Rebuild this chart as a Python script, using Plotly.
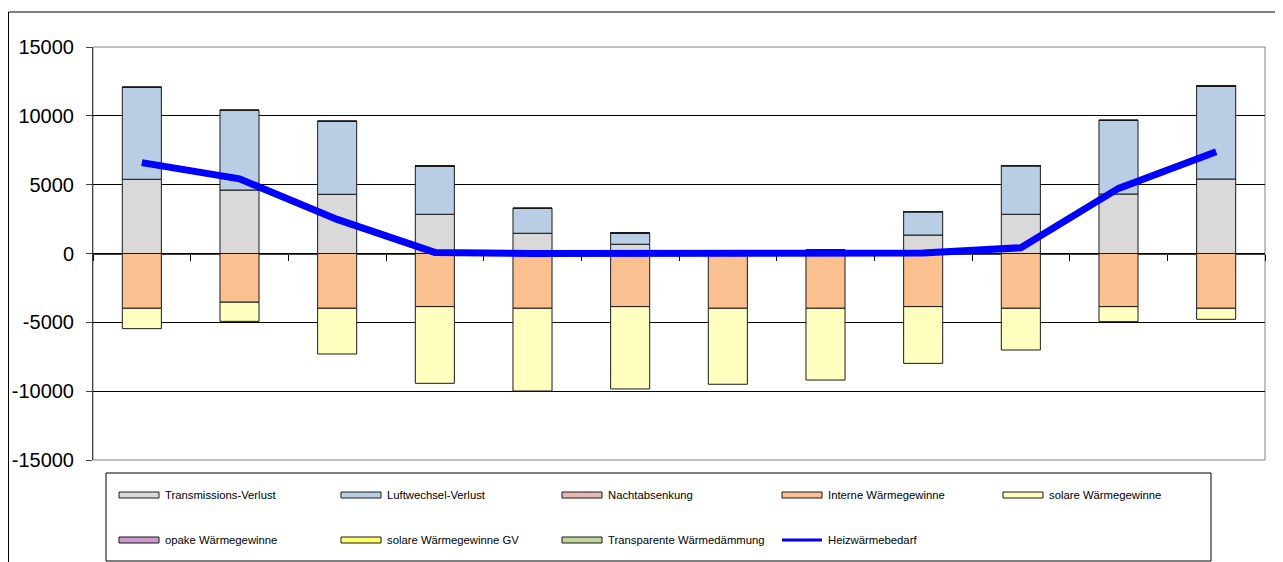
import plotly.graph_objects as go

# ---------------- data ----------------
months = ["Jan", "Feb", "Mär", "Apr", "Mai", "Jun", "Jul", "Aug", "Sep", "Okt", "Nov", "Dez"]

transmission = [5390, 4610, 4300, 2850, 1470, 670, 0, 270, 1340, 2850, 4320, 5410]
luftwechsel = [6680, 5790, 5300, 3500, 1810, 820, 0, 0, 1700, 3530, 5350, 6750]
nachtabsenkung = [0] * 12
interne = [-3980, -3540, -3980, -3860, -3980, -3860, -3980, -3980, -3860, -3980, -3860, -3980]
solare = [-1480, -1390, -3320, -5570, -6010, -5980, -5520, -5210, -4120, -3030, -1090, -800]
opake = [0] * 12
solare_gv = [0] * 12
transparente = [0] * 12
heizwaerme = [6600, 5420, 2480, 80, 0, 0, 0, 0, 30, 420, 4730, 7390]

y_ticks = [-15000, -10000, -5000, 0, 5000, 10000, 15000]

bar_series = [
    ("Transmissions-Verlust", transmission, "#D9D9D9"),
    ("Luftwechsel-Verlust", luftwechsel, "#B9CDE5"),
    ("Nachtabsenkung", nachtabsenkung, "#E6B9B8"),
    ("Interne Wärmegewinne", interne, "#FAC090"),
    ("solare Wärmegewinne", solare, "#FFFFC0"),
    ("opake Wärmegewinne", opake, "#CC99CC"),
    ("solare Wärmegewinne GV", solare_gv, "#FFFF66"),
    ("Transparente Wärmedämmung", transparente, "#C3D69B"),
]
line_name = "Heizwärmebedarf"
line_color = "#0000FF"

# ---------------- layout geometry ----------------
# the page body has an 8px margin, so the figure is drawn 8px right/down
OFF = 8
W, H = 1283 - OFF, 562 - OFF
# plot area in page pixels
PL, PR, PT, PB = 93, 1265, 47, 460
FONT = "Liberation Sans, Arial, sans-serif"


def px2x(px):
    return (px - PL) / (PR - PL)


def py2y(py):
    return (PB - py) / (PB - PT)


fig = go.Figure()
for name, vals, col in bar_series:
    fig.add_trace(go.Bar(
        x=months, y=vals, name=name, showlegend=False,
        marker=dict(color=col, line=dict(color="#1a1a1a", width=1)),
    ))

fig.add_trace(go.Scatter(
    x=months, y=heizwaerme, name=line_name, mode="lines", showlegend=False,
    line=dict(color=line_color, width=7),
))

shapes = []
annotations = []

# outer chart border
shapes.append(dict(type="rect", xref="paper", yref="paper",
                   x0=px2x(OFF + 0.5), x1=px2x(1280), y0=py2y(590), y1=py2y(12),
                   line=dict(color="#000000", width=1), fillcolor="rgba(0,0,0,0)", layer="below"))
# plot area border
shapes.append(dict(type="rect", xref="paper", yref="paper",
                   x0=0, x1=1, y0=0, y1=1,
                   line=dict(color="#808080", width=1), fillcolor="rgba(0,0,0,0)", layer="below"))
# legend box
shapes.append(dict(type="rect", xref="paper", yref="paper",
                   x0=px2x(106), x1=px2x(1211), y0=py2y(561), y1=py2y(473),
                   line=dict(color="#000000", width=1), fillcolor="white"))

col_x = [119, 341, 562, 782, 1003]
row_y = [495, 540]
legend_items = [(n, c, "bar") for n, _, c in bar_series] + [(line_name, line_color, "line")]
for i, (name, col, kind) in enumerate(legend_items):
    r, c = divmod(i, 5)
    sx = col_x[c]
    sy = row_y[r]
    if kind == "bar":
        shapes.append(dict(type="rect", xref="paper", yref="paper",
                           x0=px2x(sx), x1=px2x(sx + 40), y0=py2y(sy + 3), y1=py2y(sy - 3),
                           line=dict(color="#1a1a1a", width=1), fillcolor=col))
    else:
        shapes.append(dict(type="line", xref="paper", yref="paper",
                           x0=px2x(sx), x1=px2x(sx + 40), y0=py2y(sy), y1=py2y(sy),
                           line=dict(color=col, width=3)))
    annotations.append(dict(xref="paper", yref="paper", x=px2x(sx + 44), y=py2y(sy),
                            text=name, showarrow=False, xanchor="left", yanchor="middle",
                            font=dict(family=FONT, size=11.3, color="#000000")))

fig.update_layout(
    width=W, height=H,
    margin=dict(l=PL - OFF, r=W - (PR - OFF), t=PT - OFF, b=H - (PB - OFF), pad=0),
    paper_bgcolor="white", plot_bgcolor="white",
    barmode="relative", bargap=0.6,
    showlegend=False,
    shapes=shapes, annotations=annotations,
    font=dict(family=FONT, color="#000000"),
    xaxis=dict(
        type="category", range=[-0.5, 11.5],
        anchor="free", position=0.5, automargin=False,
        showticklabels=False, showgrid=False, zeroline=False,
        showline=True, linecolor="#404040", linewidth=1,
        ticks="outside", tickson="boundaries", ticklen=6, tickcolor="#000000",
        layer="below traces",
    ),
    yaxis=dict(
        range=[-15000, 15000], tickvals=y_ticks, automargin=False,
        ticktext=[str(v) for v in y_ticks],
        showgrid=True, gridcolor="#000000", gridwidth=1,
        zeroline=False,
        showline=True, linecolor="#404040", linewidth=1,
        ticks="outside", ticklen=6, tickcolor="#404040",
        tickfont=dict(family=FONT, size=20, color="#000000"),
        ticklabelstandoff=8,
    ),
)

fig.write_html("out.html")
